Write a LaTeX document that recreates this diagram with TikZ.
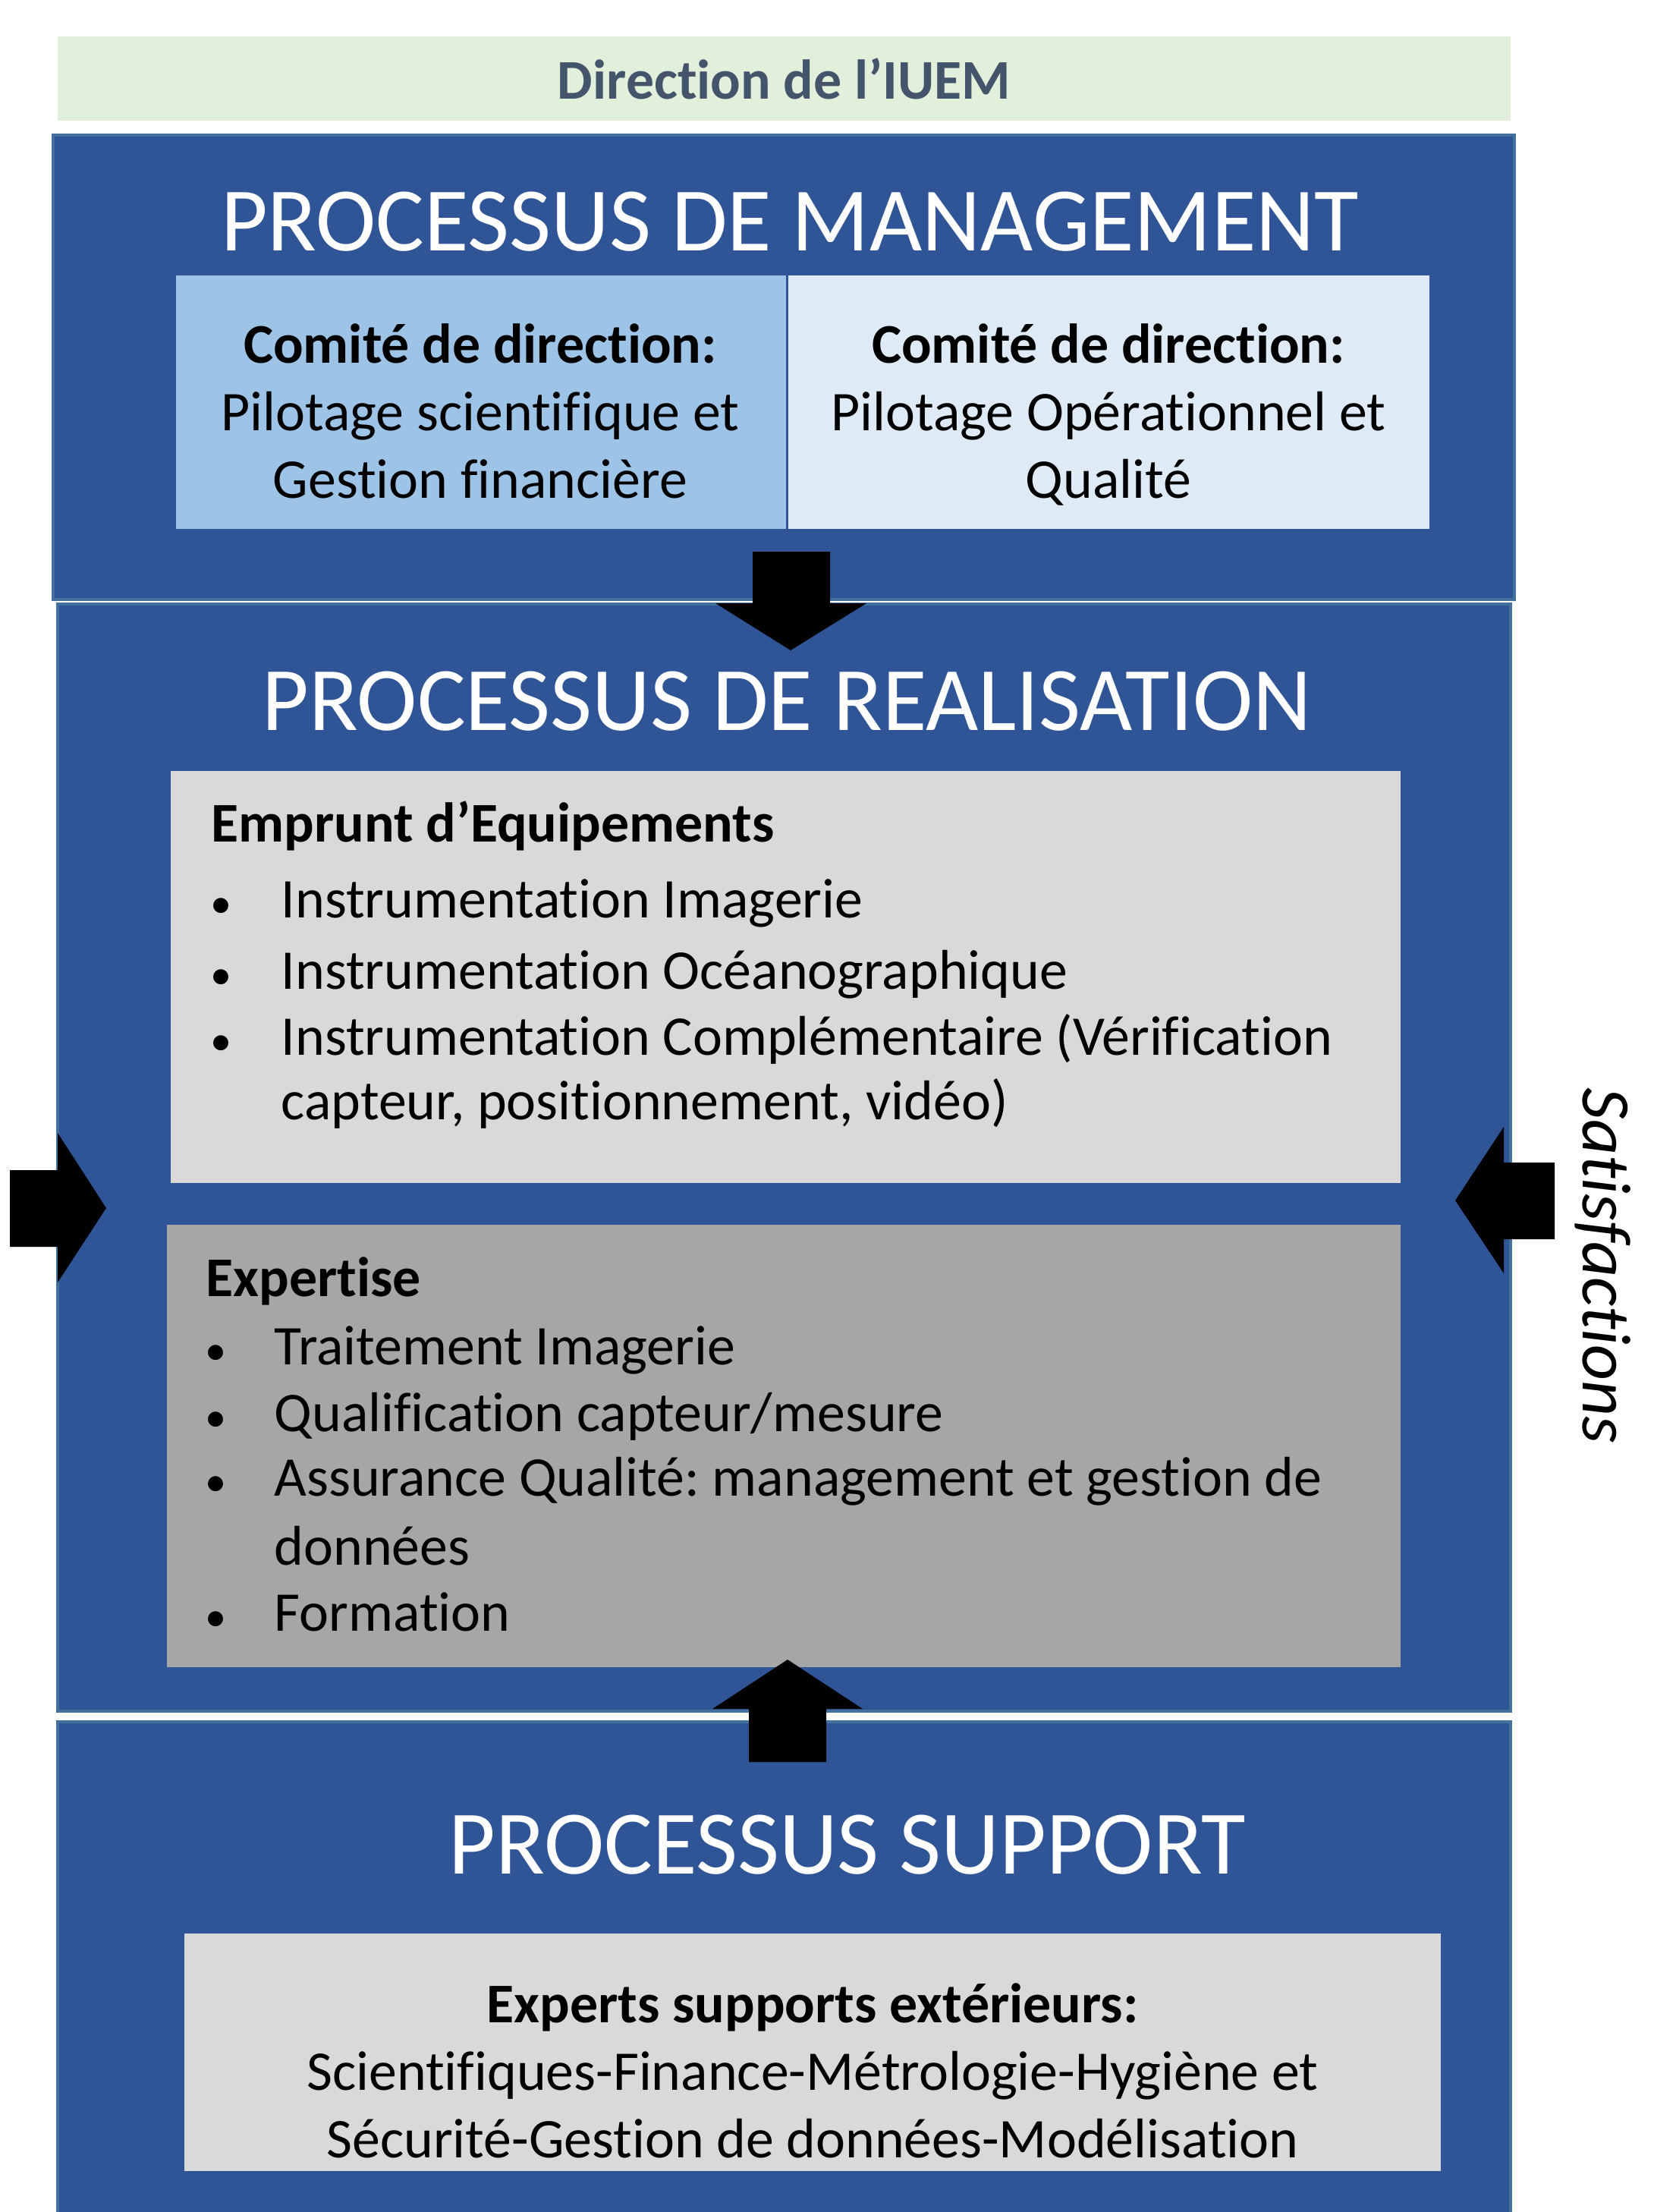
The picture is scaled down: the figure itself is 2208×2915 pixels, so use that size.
\documentclass[tikz,border=0pt]{standalone}
\usepackage{fontspec}
\setmainfont{Carlito}[Ligatures={TeX,NoCommon}]
\usetikzlibrary{fit}

\definecolor{procblue}{HTML}{2F5597}
\definecolor{procedge}{HTML}{41719C}
\definecolor{dirgreen}{HTML}{E2EFDA}
\definecolor{dirtext}{HTML}{44546A}
\definecolor{pilotblue}{HTML}{9DC3E6}
\definecolor{pilotpale}{HTML}{DEEBF7}
\definecolor{lightgrey}{HTML}{D9D9D9}
\definecolor{darkgrey}{HTML}{A6A6A6}

\frenchspacing

\begin{document}
\begin{tikzpicture}[x=0.01cm, y=-0.01cm,
		procbox/.style = {fill=procblue, draw=procedge, line width=0.04cm, inner sep=0pt},
		innerbox/.style = {draw=procblue, line width=0.03cm, inner sep=0pt},
		greybox/.style = {inner sep=0pt},
		title/.style = {text=white, font=\fontsize{34}{40}\selectfont},
		body/.style = {font=\fontsize{21}{25.3}\selectfont, align=center},
		item/.style = {anchor=base west, inner sep=0pt, font=\fontsize{21}{25}\selectfont},
		bullet/.style = {anchor=base, inner sep=0pt, font=\fontsize{16}{18}\selectfont}
	]
	\useasboundingbox (0,0) rectangle (2208,2915);

	% direction
	\node (dir) [fill=dirgreen, inner sep=0pt, fit={(76,48) (1991,159)}] {};
	\node (dirlabel) at (dir.center) [text=dirtext, font=\fontsize{21}{24}\selectfont\bfseries] {Direction de l’IUEM};

	% management
	\node (mgmt) [procbox, fit={(70,178) (1996,790)}] {};
	\node (mgmttitle) at (1041,292) [title] {PROCESSUS DE MANAGEMENT};
	\node (pilotL) [innerbox, fill=pilotblue, fit={(230,361) (1037,698)}] {};
	\node (pilotR) [innerbox, fill=pilotpale, fit={(1037,361) (1885,698)}] {};
	\node (pilotLtext) at (633,550) [body] {\strut\textbf{Comité de direction:}\\Pilotage scientifique et\\Gestion financière\strut};
	\node (pilotRtext) at (1461,550) [body] {\strut\textbf{Comité de direction:}\\Pilotage Opérationnel et\\Qualité\strut};

	% realisation
	\node (real) [procbox, fit={(76,796) (1991,2255)}] {};
	\node (realtitle) at (1037,924) [title] {PROCESSUS DE REALISATION};

	\node (empr) [greybox, fill=lightgrey, fit={(225,1016) (1846,1559)}] {};
	\node (emprhead) at (278,1109) [item, font=\fontsize{21}{25}\selectfont\bfseries] {Emprunt d’Equipements};
	\foreach \y/\t [count=\i] in {1209/{Instrumentation Imagerie}, 1303/{Instrumentation Océanographique}, 1390/{Instrumentation Complémentaire (Vérification}} {
		\node (emprb\i) at (292,\y) [bullet] {•};
		\node (empri\i) at (370,\y) [item] {\t};
	}
	\node (empri4) at (370,1475) [item] {capteur, positionnement, vidéo)};

	\node (expert) [greybox, fill=darkgrey, fit={(220,1614) (1846,2197)}] {};
	\node (experthead) at (271,1708) [item, font=\fontsize{21}{25}\selectfont\bfseries] {Expertise};
	\foreach \y/\t [count=\i] in {1798/{Traitement Imagerie}, 1886/{Qualification capteur/mesure}, 1971/{Assurance Qualité: management et gestion de}, 2149/{Formation}} {
		\node (expertb\i) at (285,\y) [bullet] {•};
		\node (experti\i) at (361,\y) [item] {\t};
	}
	\node (experti5) at (361,2062) [item] {données};

	% support
	\node (supp) [procbox, fit={(76,2269) (1991,2935)}] {};
	\node (supptitle) at (1117,2431) [title] {PROCESSUS SUPPORT};
	\node (experts) [greybox, fill=lightgrey, fit={(243,2548) (1899,2861)}] {};
	\node (expertstext) at (1071,2737) [body] {\strut\textbf{Experts supports extérieurs:}\\Scientifiques-Finance-Métrologie-Hygiène et\\Sécurité-Gestion de données-Modélisation\strut};

	% block arrows
	\begin{scope}[fill=black]
		\fill (992,727) -- (1094,727) -- (1094,795) -- (1142,795) -- (1042,857) -- (943,795) -- (992,795) -- cycle;
		\fill (987,2322) -- (1089,2322) -- (1089,2252) -- (1137,2252) -- (1038,2187) -- (939,2252) -- (987,2252) -- cycle;
		\fill (13,1542) -- (76,1542) -- (76,1493) -- (140,1592) -- (76,1690) -- (76,1643) -- (13,1643) -- cycle;
		\fill (2049,1532) -- (1982,1532) -- (1982,1485) -- (1918,1582) -- (1982,1678) -- (1982,1633) -- (2049,1633) -- cycle;
	\end{scope}

	\node (satis) at (2113,1668) [rotate=-90, font=\fontsize{26}{30}\selectfont\itshape] {Satisfactions};
\end{tikzpicture}
\end{document}
